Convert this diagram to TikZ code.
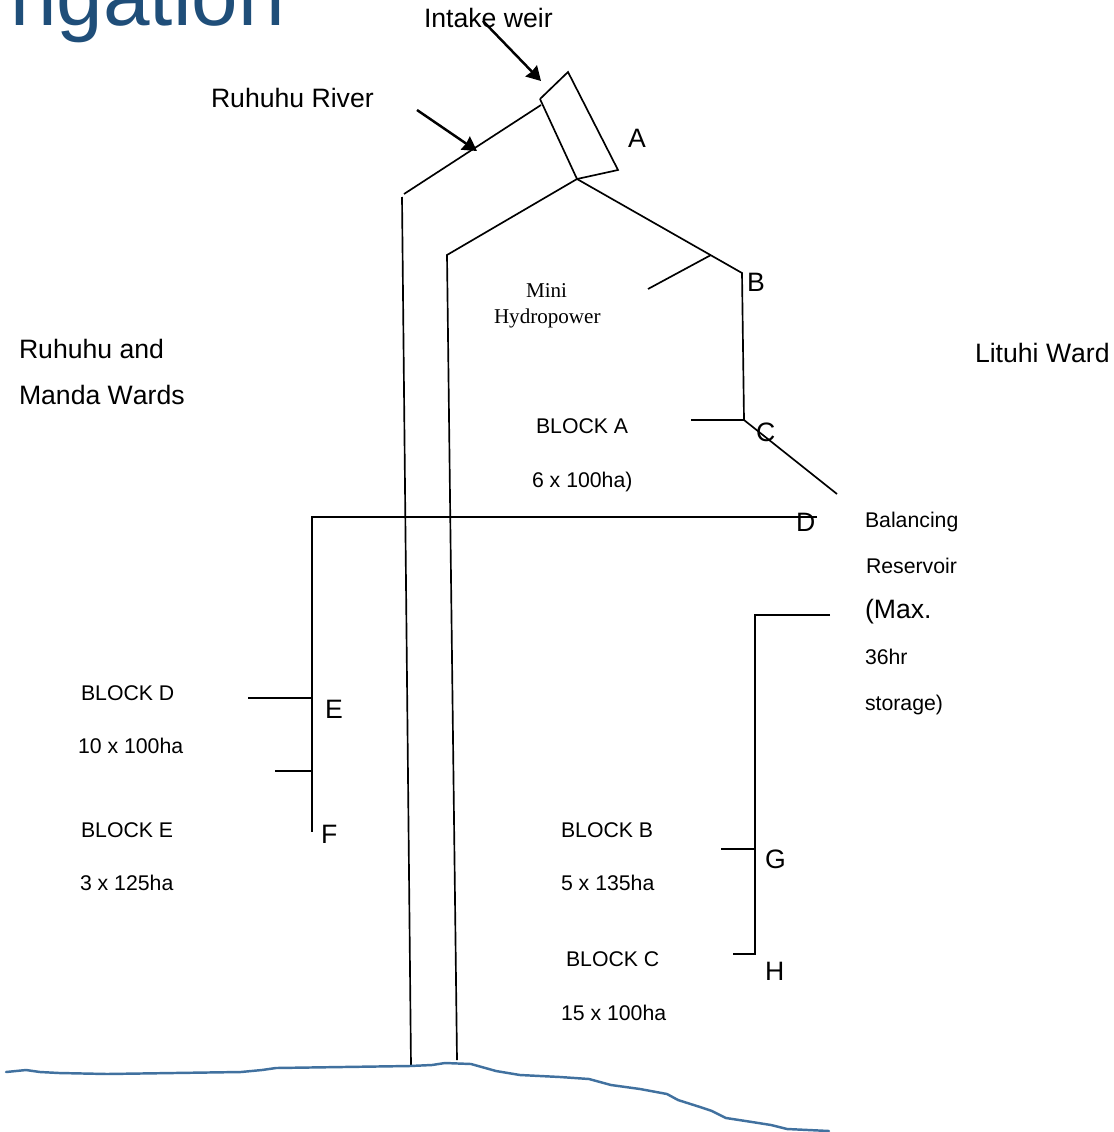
\documentclass[tikz,border=0pt]{standalone}
\usepackage{xcolor}
\usepackage{fontspec}
\setmainfont[Kerning=Off]{Liberation Sans}
\newfontfamily\serifnote{Liberation Serif}
\usetikzlibrary{arrows.meta}
\definecolor{mytitle}{RGB}{31,78,121}
\definecolor{myshore}{RGB}{65,113,159}
\tikzset{
  bigtext/.style={anchor=base west, inner sep=0pt, xshift=-0.2pt, font=\fontsize{15.15}{18}\selectfont},
  smalltext/.style={anchor=base west, inner sep=0pt, xshift=-0.2pt, font=\fontsize{12.1}{14}\selectfont},
  serifnode/.style={anchor=base west, inner sep=0pt, xshift=-0.2pt, font=\fontsize{12}{14}\serifnote},
  titletext/.style={anchor=base west, inner sep=0pt, text=mytitle, font=\fontsize{47.6}{56}\selectfont},
  canal/.style={line width=0.95pt, color=black},
  pointer/.style={-{Stealth[length=8pt,width=9pt,inset=0.5pt]}, line width=1.4pt, color=black},
  shore/.style={line width=1.4pt, color=myshore, line join=round, line cap=round}
}
\begin{document}
\begin{tikzpicture}[x=0.02cm, y=-0.02cm]
  \useasboundingbox (0,0) rectangle (1114,1132);

  % Title, cut off by the page
  \node[titletext] (title) at (10,26) {ngation};

  % Top labels and arrows
  \node[bigtext] (weirlabel) at (424,28) {Intake weir};
  \node[bigtext] (riverlabel) at (211,108) {Ruhuhu River};
  \draw[pointer] (483,21) -- (541,81);
  \draw[pointer] (417,110) -- (477,151);

  % Intake weir box
  \draw[canal] (540,99) -- (568,72) -- (618,170) -- (577,179) -- (540,99);

  % River banks
  \draw[canal] (404,194) -- (541,105);
  \draw[canal] (402,197) -- (411,1066);
  \draw[canal] (577,179) -- (447,255) -- (457,1060);

  % Main canal to the reservoir
  \draw[canal] (577,179) -- (742,273) -- (744,420) -- (837,494);
  \draw[canal] (711,255) -- (648,289);
  \draw[canal] (744,420) -- (691,420);

  % Left branch
  \draw[canal] (817,517) -- (312,517) -- (312,832);
  \draw[canal] (248,698) -- (312,698);
  \draw[canal] (275,771) -- (312,771);

  % Right branch
  \draw[canal] (830,615) -- (755,615) -- (755,954) -- (733,954);
  \draw[canal] (721,849) -- (755,849);

  % Shore line
  \draw[shore] (6,1072) -- (26,1070) -- (40,1072) -- (59,1073) -- (107,1074) -- (241,1072)
    -- (262,1070) -- (276,1068) -- (410,1066) -- (432,1065) -- (445,1063) -- (471,1064) -- (496,1071)
    -- (520,1075) -- (560,1077) -- (589,1079) -- (611,1085) -- (640,1089) -- (667,1094) -- (678,1100)
    -- (700,1107) -- (712,1111) -- (726,1118) -- (752,1122) -- (771,1125) -- (787,1129) -- (829,1131);

  % Point letters
  \node[bigtext] (pointa) at (628,147) {A};
  \node[bigtext] (pointb) at (747,291) {B};
  \node[bigtext] (pointc) at (756,441) {C};
  \node[bigtext] (pointd) at (796,531) {D};
  \node[bigtext] (pointe) at (325,718) {E};
  \node[bigtext] (pointf) at (321,843) {F};
  \node[bigtext] (pointg) at (765,868) {G};
  \node[bigtext] (pointh) at (765,980) {H};

  % Wards
  \node[bigtext] (wardone) at (19,358) {Ruhuhu and};
  \node[bigtext] (wardtwo) at (19,404) {Manda Wards};
  \node[bigtext] (wardthree) at (975,362) {Lituhi Ward};

  % Mini hydropower
  \node[serifnode] (minione) at (526,297) {Mini};
  \node[serifnode] (minitwo) at (494,323) {Hydropower};

  % Blocks
  \node[smalltext] (blocka) at (536,433) {BLOCK A};
  \node[smalltext] (areaa) at (532,487) {6 x 100ha)};
  \node[smalltext] (blockd) at (81,700) {BLOCK D};
  \node[smalltext] (aread) at (78,753) {10 x 100ha};
  \node[smalltext] (blocke) at (81,837) {BLOCK E};
  \node[smalltext] (areae) at (80,890) {3 x 125ha};
  \node[smalltext] (blockb) at (561,837) {BLOCK B};
  \node[smalltext] (areab) at (561,890) {5 x 135ha};
  \node[smalltext] (blockc) at (566,966) {BLOCK C};
  \node[smalltext] (areac) at (561,1020) {15 x 100ha};

  % Balancing reservoir
  \node[smalltext] (resone) at (865,527) {Balancing};
  \node[smalltext] (restwo) at (866,573) {Reservoir};
  \node[bigtext] (resthree) at (865,618) {(Max.};
  \node[smalltext] (resfour) at (865,664) {36hr};
  \node[smalltext] (resfive) at (865,710) {storage)};
\end{tikzpicture}
\end{document}
